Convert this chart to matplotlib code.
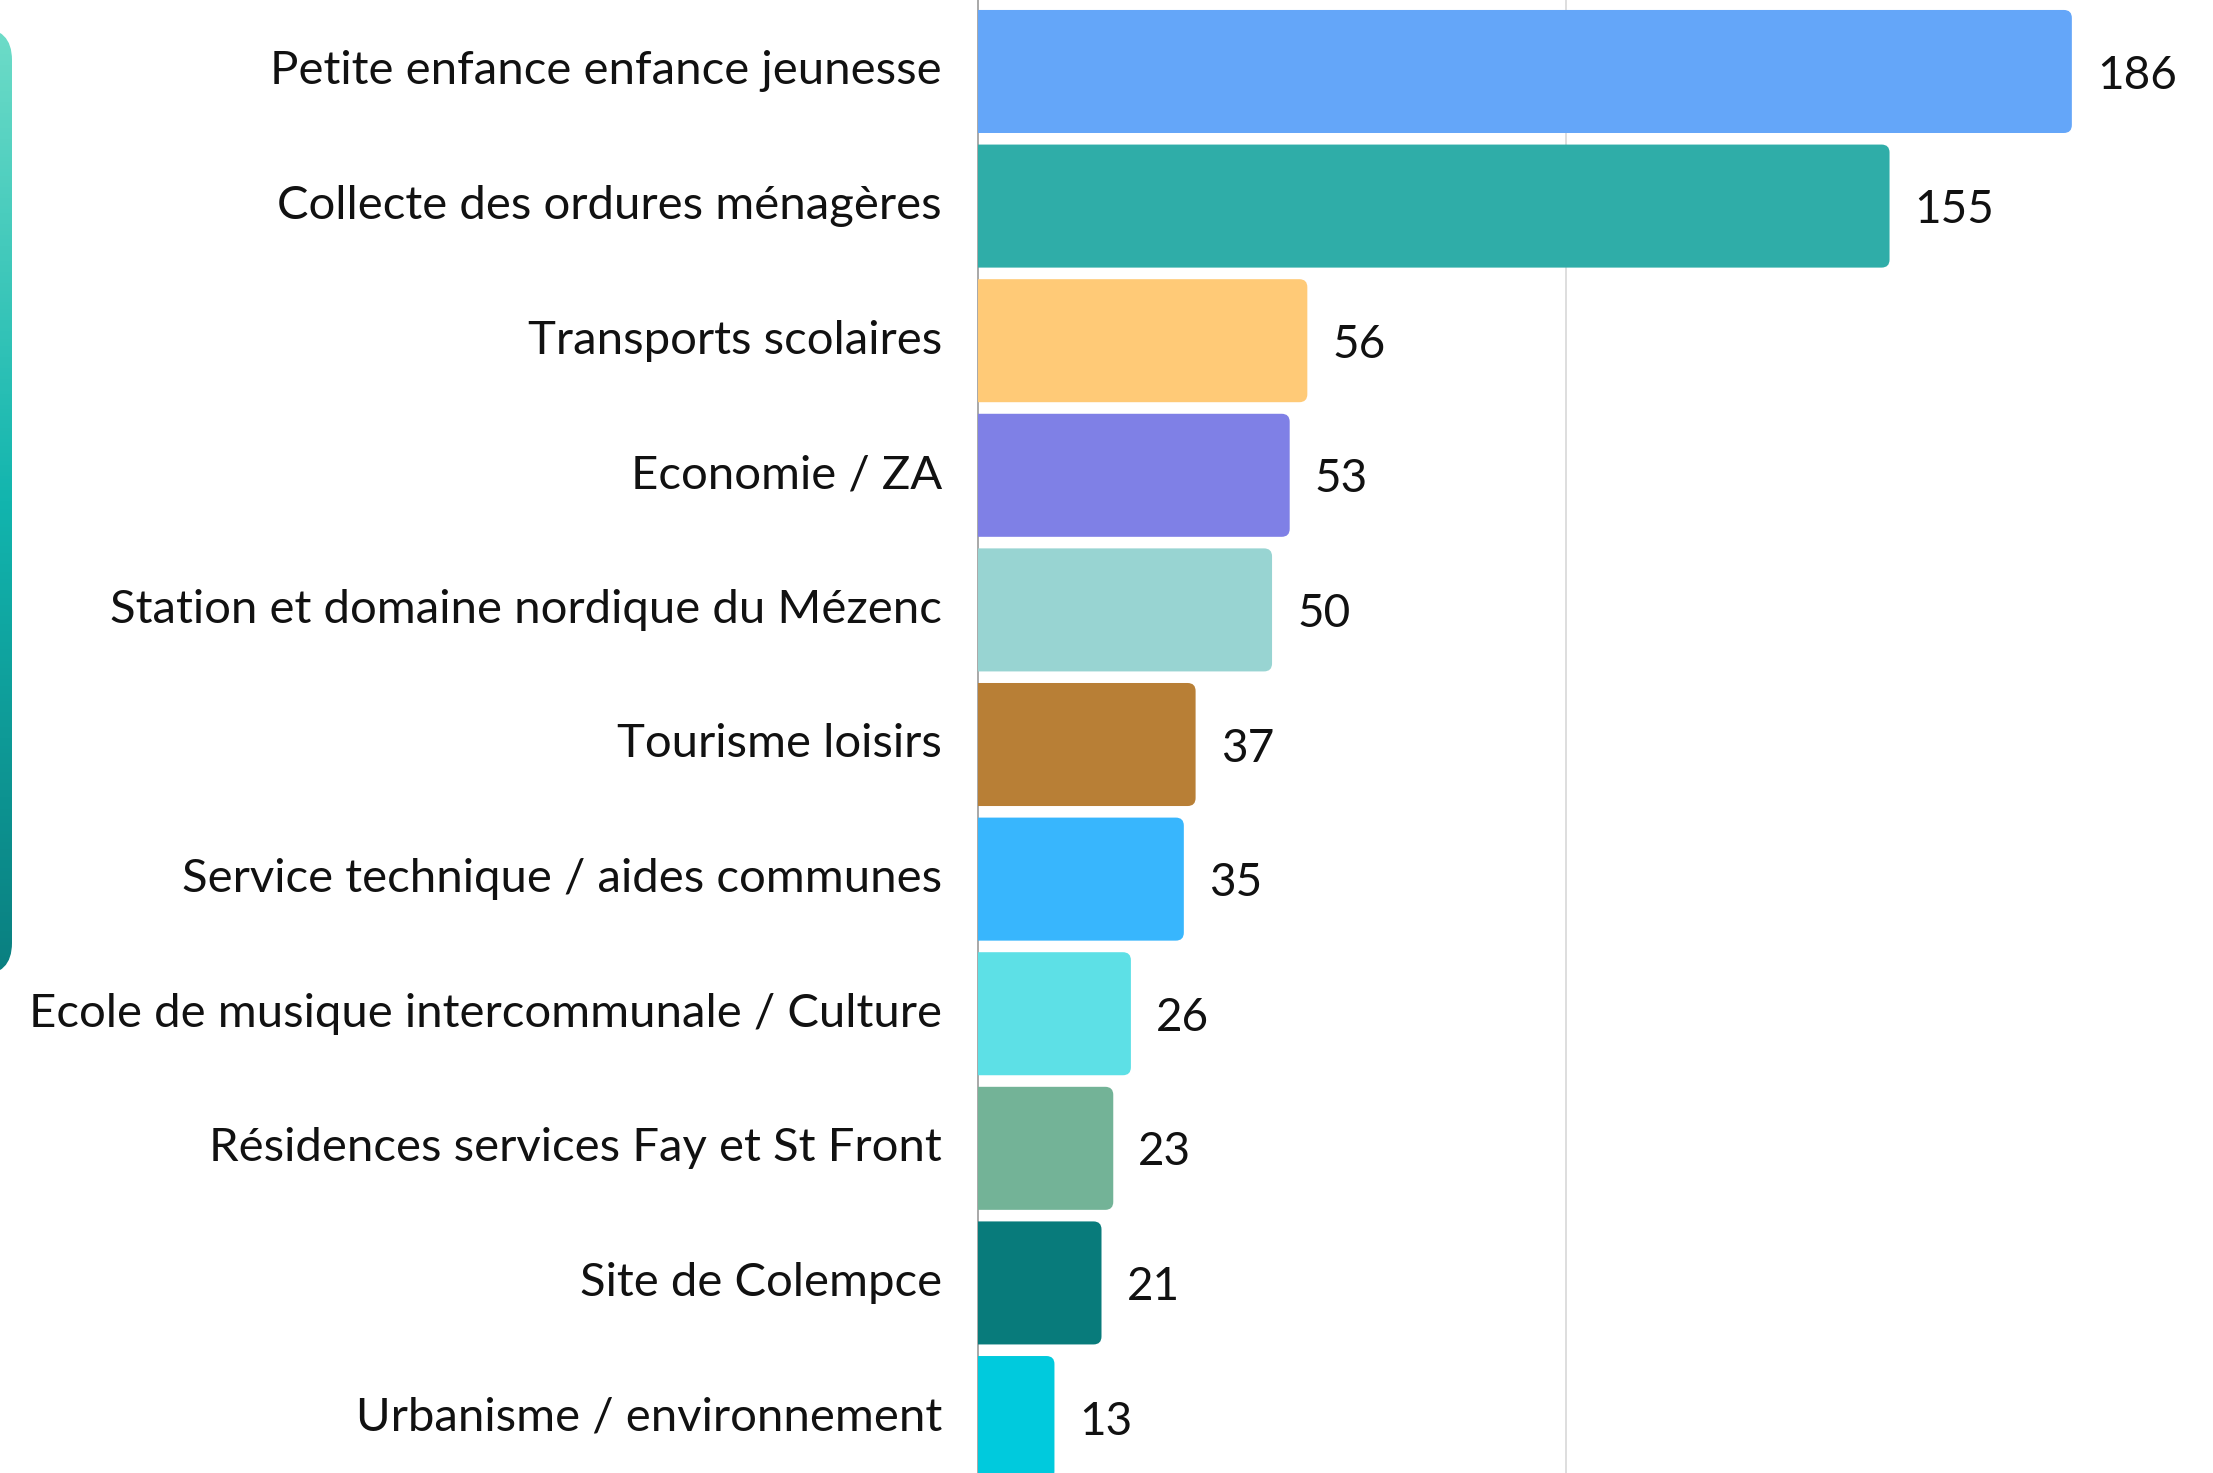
import matplotlib.pyplot as plt
import numpy as np
import matplotlib.transforms as mtransforms
from matplotlib.patches import FancyBboxPatch
from matplotlib.colors import LinearSegmentedColormap

# %%
categories = [
    "Petite enfance enfance jeunesse",
    "Collecte des ordures ménagères",
    "Transports scolaires",
    "Economie / ZA",
    "Station et domaine nordique du Mézenc",
    "Tourisme loisirs",
    "Service technique / aides communes",
    "Ecole de musique intercommunale / Culture",
    "Résidences services Fay et St Front",
    "Site de Colempce",
    "Urbanisme / environnement",
]
values = [186, 155, 56, 53, 50, 37, 35, 26, 23, 21, 13]
colors = ["#64a6f9", "#2fada8", "#ffca77", "#7f80e6", "#98d4d2", "#b87f36",
          "#38b6fd", "#5de0e6", "#73b397", "#087b7b", "#00cadd"]

plt.rcParams['font.family'] = ['Lato', 'DejaVu Sans']

W, H = 2213, 1473
fig = plt.figure(figsize=(W / 100, H / 100), dpi=100)

# background layer in pixel units for the gradient tab on the left
bg = fig.add_axes([0, 0, 1, 1])
bg.set_xlim(0, W)
bg.set_ylim(H, 0)
bg.axis("off")
grad = LinearSegmentedColormap.from_list("tab", ["#6edcc8", "#12b5ae", "#0a7f80"])
im = bg.imshow(np.linspace(0, 1, 256)[:, None], cmap=grad, aspect="auto",
               extent=[-60, 12, 975, 28])
clip = FancyBboxPatch((-60, 28), 72, 947, boxstyle="round,pad=0,rounding_size=32",
                      transform=bg.transData, facecolor="none", edgecolor="none")
bg.add_patch(clip)
im.set_clip_path(clip)

# %%
x0 = 978 / W
ax = fig.add_axes([x0, 0, 1 - x0, 1])
ax.patch.set_alpha(0)
xmax = 210.0
ax.set_xlim(0, xmax)
ylo, yhi = -0.531, 10.412
ax.set_ylim(yhi, ylo)

px_x = (W - 978) / xmax          # pixels per x unit
px_y = H / (yhi - ylo)           # pixels per y unit
bar_h = 0.914
r = 8 / px_x

ax.axvline(100, color="#d4d4d4", lw=1.1, zorder=0)

for i, (v, c) in enumerate(zip(values, colors)):
    p = FancyBboxPatch((-3 * r, i - bar_h / 2), v + 3 * r, bar_h,
                       boxstyle=f"round,pad=0,rounding_size={r}",
                       mutation_aspect=px_x / px_y,
                       facecolor=c, edgecolor="none", zorder=2)
    ax.add_patch(p)
    ax.annotate(str(v), (v, i), xytext=(18, -3), textcoords="offset points",
                va="center", ha="left", fontsize=33, color="#111111")

ax.set_yticks(range(len(categories)))
ax.set_yticklabels(categories, fontsize=34, color="#111111")
ax.tick_params(axis="y", length=0, pad=26)
shift = mtransforms.ScaledTranslation(0, 3 / 72, fig.dpi_scale_trans)
for lab in ax.get_yticklabels():
    lab.set_transform(lab.get_transform() + shift)
ax.set_xticks([])
for s in ["top", "right", "bottom"]:
    ax.spines[s].set_visible(False)
ax.spines["left"].set_color("#9a9a9a")
ax.spines["left"].set_linewidth(1.2)
ax.spines["left"].set_zorder(1)

plt.savefig("out.png", dpi=100)
